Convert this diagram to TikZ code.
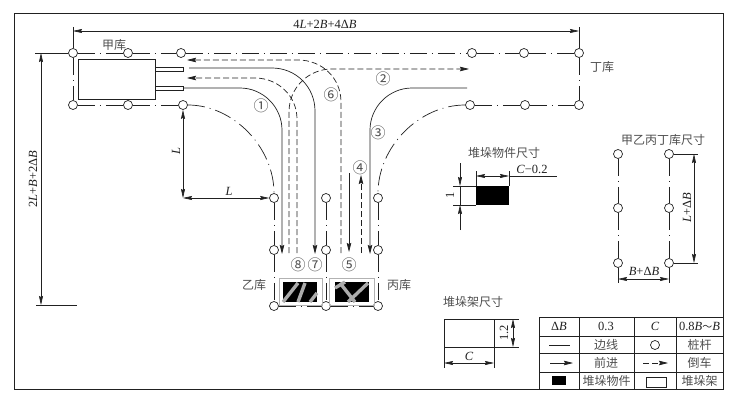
\documentclass[tikz,border=0pt]{standalone}
\usepackage{fontspec}
\setmainfont{Liberation Serif}
\newfontfamily\cjk{Noto Sans CJK SC}
\usetikzlibrary{arrows.meta}
\definecolor{ink}{gray}{0.13}
\tikzset{
  every node/.style={text=ink},
  base/.style={draw=ink,line width=0.7pt},
  post/.style={circle,draw=ink,line width=0.7pt,inner sep=0pt,minimum size=9pt},
  dd/.style={base,dash pattern=on 17pt off 5pt on 1pt off 5pt},
  road/.style={base,-{Stealth[length=9pt,width=4.5pt,inset=1pt]}},
  back/.style={base,dash pattern=on 6pt off 3pt,-{Stealth[length=9pt,width=4.5pt,inset=1pt]}},
  dim/.style={base,line width=0.6pt,{Stealth[length=9pt,width=4pt,inset=1pt]}-{Stealth[length=9pt,width=4pt,inset=1pt]}},
  ext/.style={base,line width=0.6pt},
  lab/.style={font=\fontsize{12.5}{13}\selectfont,inner sep=0pt},
  zh/.style={font=\cjk\fontsize{12}{13}\selectfont,inner sep=0pt,text=ink!80},
  num/.style={font=\cjk\fontsize{15}{15}\selectfont,inner sep=0pt,text=ink!80},
  tick/.style={base,line width=0.8pt},
  scuff/.style={draw=gray!65,line width=3.4pt}
}
\begin{document}
\begin{tikzpicture}[x=1pt,y=-1pt]
\useasboundingbox (0,0) rectangle (733,401);
% frame
\draw[tick] (14,389) -- (14,13) -- (723,13) -- (723,389) -- cycle;

% posts
\foreach \n/\x/\y in {a1/73/53,a2/128/53,a3/181/53,a4/73/105,a5/128/105,a6/183/105,
  d1/472/53,d2/524/53,d3/579/53,d4/470/105,d5/525/105,d6/579/105,
  e1/274/198,e2/274/250,e3/274/306,f1/326/198,f2/326/250,f3/326/306,g1/378/198,g2/378/250,g3/378/306,
  s1/618/154,s2/669/154,s3/618/208,s4/669/208,s5/618/263,s6/669/263}
  {\node[post] (\n) at (\x,\y) {};}

% store outlines
\draw[dd] (a1) -- (a2);
\draw[dd] (a2) -- (a3);
\draw[dd] (a3) -- (d1);
\draw[dd] (d1) -- (d2);
\draw[dd] (d2) -- (d3);
\draw[dd] (a4) -- (a5);
\draw[dd] (a5) -- (a6);
\draw[dd] (d4) -- (d5);
\draw[dd] (d5) -- (d6);
\draw[dd] (a1) -- (a4);
\draw[dd] (d3) -- (d6);
\draw[dd] (a6) .. controls (233,105) and (274,147) .. (e1);
\draw[dd] (d4) .. controls (419,105) and (378,147) .. (g1);
\draw[dd] (e1) -- (e2);
\draw[dd] (e2) -- (e3);
\draw[dd] (f1) -- (f2);
\draw[dd] (f2) -- (f3);
\draw[dd] (g1) -- (g2);
\draw[dd] (g2) -- (g3);
\draw[dd] (e3) -- (f3);
\draw[dd] (f3) -- (g3);
\draw[dd] (s1) -- (s3);
\draw[dd] (s3) -- (s5);
\draw[dd] (s2) -- (s4);
\draw[dd] (s4) -- (s6);

% truck
\node[draw=ink,line width=0.7pt,minimum width=77pt,minimum height=40pt,inner sep=0pt] (truck) at (116.5,79) {};
\draw[base] (155,67) rectangle (183,71);
\draw[base] (155,86) rectangle (183,90);

% travel paths
\coordinate (p1) at (183,88);
\coordinate (p1e) at (282,254);
\draw[road] (p1) -- (240,88) .. controls (263,88) and (282,107) .. (282,130) -- (p1e);
\coordinate (p2) at (189,68);
\coordinate (p2e) at (315,254);
\draw[road] (p2) -- (272,68) .. controls (296,68) and (315,87) .. (315,111) -- (p2e);
\coordinate (p3) at (467,88);
\coordinate (p3e) at (370,254);
\draw[road] (p3) -- (412,88) .. controls (389,88) and (370,107) .. (370,130) -- (p3e);
\coordinate (p4) at (349,173);
\coordinate (p4e) at (349,252);
\draw[road] (p4) -- (p4e);
\coordinate (r1) at (341,253);
\coordinate (r1e) at (187,60);
\draw[back] (r1) -- (341,102) .. controls (341,78) and (322,60) .. (298,60) -- (r1e);
\coordinate (r2) at (297,253);
\coordinate (r2e) at (187,78);
\draw[back] (r2) -- (297,119) .. controls (297,96) and (278,78) .. (255,78) -- (r2e);
\coordinate (r3) at (289,253);
\coordinate (r3e) at (469,69);
\draw[back] (r3) -- (289,112) .. controls (289,88) and (308,69) .. (332,69) -- (r3e);
\coordinate (r4) at (361,253);
\coordinate (r4e) at (361,175);
\draw[back] (r4) -- (r4e);

% racks
\foreach \n/\xa/\xb/\ya/\yb in {ya/279/322/278/305,yb/329/374/278/305}
  {\draw[draw=gray!60,line width=0.8pt] (\xa,\ya) rectangle (\xb,\yb);}
\fill[black] (283,282) rectangle (317,302);
\fill[black] (335,282) rectangle (369,302);
\draw[scuff] (283,302) -- (298,283);
\draw[scuff] (298,302) -- (305,283);
\draw[scuff] (310,302) -- (317,293);
\draw[scuff] (335,288) -- (345,282);
\draw[scuff] (340,283) -- (355,302);
\draw[scuff] (348,302) -- (368,283);

% main dimensions
\coordinate (t1) at (73,27); \coordinate (t2) at (579,27);
\coordinate (dl) at (73,31); \coordinate (dr) at (579,31);
\draw[ext] (t1) -- (a1);
\draw[ext] (t2) -- (d3);
\draw[dim] (dl) -- (dr);
\node[lab] (tt) at (325,24) {4\textit{L}+2\textit{B}+4Δ\textit{B}};
\coordinate (l1) at (35,53); \coordinate (l2) at (36,305); \coordinate (l3) at (77,305);
\coordinate (l4) at (41,53); \coordinate (l5) at (41,305);
\draw[ext] (l1) -- (a1);
\draw[ext] (l2) -- (l3);
\draw[dim] (l4) -- (l5);
\node[lab,rotate=90] (lt) at (33,179) {2\textit{L}+\textit{B}+2Δ\textit{B}};
\coordinate (m1) at (183,198);
\draw[dim] (a6) -- (m1);
\draw[dim] (m1) -- (e1);
\node[lab,rotate=90] (ll) at (176,151) {\textit{L}};
\node[lab] (lh) at (229,191) {\textit{L}};

% labels
\node[zh] (n1) at (114,45) {甲库};
\node[zh] (n2) at (602,67) {丁库};
\node[zh] (n3) at (254,285) {乙库};
\node[zh] (n4) at (399,285) {丙库};
\node[num] (c1) at (261,106) {①};
\node[num] (c2) at (383,79) {②};
\node[num] (c3) at (378,133) {③};
\node[num] (c4) at (360,168) {④};
\node[num] (c5) at (349,265) {⑤};
\node[num] (c6) at (331,95) {⑥};
\node[num] (c7) at (315,265) {⑦};
\node[num] (c8) at (298,265) {⑧};

% stack item
\node[zh] (h1) at (504,153) {堆垛物件尺寸};
\node[fill=black,minimum width=33pt,minimum height=19pt,inner sep=0pt] (item) at (492.5,195.5) {};
\coordinate (i1) at (476,171); \coordinate (i2) at (476,186);
\coordinate (i3) at (509,171); \coordinate (i4) at (509,186);
\coordinate (i5) at (476,176); \coordinate (i6) at (509,176); \coordinate (i7) at (557,176);
\draw[ext] (i1) -- (i2);
\draw[ext] (i3) -- (i4);
\draw[dim] (i5) -- (i6);
\draw[ext] (i6) -- (i7);
\node[lab] (it) at (532,169) {\textit{C}−0.2};
\coordinate (v1) at (453,186); \coordinate (v2) at (453,205);
\coordinate (v3) at (476,186); \coordinate (v4) at (476,205);
\coordinate (v5) at (460,163); \coordinate (v6) at (460,186);
\coordinate (v7) at (460,205); \coordinate (v8) at (460,230);
\draw[ext] (v1) -- (v3);
\draw[ext] (v2) -- (v4);
\draw[base,line width=0.6pt,-{Stealth[length=9pt,width=4pt,inset=1pt]}] (v5) -- (v6);
\draw[base,line width=0.6pt,-{Stealth[length=9pt,width=4pt,inset=1pt]}] (v8) -- (v7);
\draw[ext] (v6) -- (v7);
\node[lab,rotate=90] (iv) at (450,195) {1};

% store size
\node[zh] (h2) at (663,140) {甲乙丙丁库尺寸};
\coordinate (w1) at (698,154); \coordinate (w2) at (698,263);
\coordinate (w3) at (694,154); \coordinate (w4) at (694,263);
\draw[ext] (s2) -- (w1);
\draw[ext] (s6) -- (w2);
\draw[dim] (w3) -- (w4);
\node[lab,rotate=90] (wt) at (687,208) {\textit{L}+Δ\textit{B}};
\coordinate (b1) at (618,283); \coordinate (b2) at (669,283);
\coordinate (b3) at (618,279); \coordinate (b4) at (669,279);
\draw[ext] (s5) -- (b1);
\draw[ext] (s6) -- (b2);
\draw[dim] (b3) -- (b4);
\node[lab] (bt) at (644,271) {\textit{B}+Δ\textit{B}};

% rack size
\node[zh] (h3) at (473,302) {堆垛架尺寸};
\node[draw=ink,line width=0.7pt,minimum width=50pt,minimum height=28pt,inner sep=0pt] (rack) at (469,333) {};
\coordinate (q1) at (444,347); \coordinate (q2) at (444,368);
\coordinate (q3) at (494,347); \coordinate (q4) at (494,368);
\coordinate (q5) at (444,363); \coordinate (q6) at (494,363);
\draw[ext] (q1) -- (q2);
\draw[ext] (q3) -- (q4);
\draw[dim] (q5) -- (q6);
\node[lab] (qt) at (469,356) {\textit{C}};
\coordinate (u1) at (494,319); \coordinate (u2) at (519,319);
\coordinate (u3) at (494,347); \coordinate (u4) at (519,347);
\coordinate (u5) at (513,319); \coordinate (u6) at (513,347);
\draw[ext] (u1) -- (u2);
\draw[ext] (u3) -- (u4);
\draw[dim] (u5) -- (u6);
\node[lab,rotate=90] (ut) at (504,333) {1.2};

% table
\draw[base] (539,389) -- (539,317) -- (723,317);
\draw[base] (539,336) -- (723,336);
\draw[base] (539,353) -- (723,353);
\draw[base] (539,372) -- (723,372);
\draw[base] (579,317) -- (579,389);
\draw[base] (634,317) -- (634,389);
\draw[base] (676,317) -- (676,389);
\node[lab] (k1) at (559,326.5) {Δ\textit{B}};
\node[lab] (k2) at (606,326.5) {0.3};
\node[lab] (k3) at (655,326.5) {\textit{C}};
\node[lab] (k4) at (699.5,326.5) {0.8\textit{B}\raisebox{0pt}{\cjk\fontsize{10}{10}\selectfont ～}\textit{B}};
\coordinate (x1) at (549,345); \coordinate (x2) at (570,345);
\draw[base] (x1) -- (x2);
\node[zh] (k5) at (606,345) {边线};
\node[post] (k6) at (655,345) {};
\node[zh] (k7) at (699.5,345) {桩杆};
\coordinate (x3) at (550,363); \coordinate (x4) at (573,363);
\draw[road] (x3) -- (x4);
\node[zh] (k8) at (606,363) {前进};
\coordinate (x5) at (643,363); \coordinate (x6) at (668,363);
\draw[back] (x5) -- (x6);
\node[zh] (k9) at (699.5,363) {倒车};
\node[fill=black,minimum width=14pt,minimum height=9pt,inner sep=0pt] (k10) at (559,380.5) {};
\node[zh] (k11) at (606.5,380.5) {堆垛物件};
\node[draw=ink,line width=0.5pt,minimum width=20pt,minimum height=10pt,inner sep=0pt] (k12) at (656,382) {};
\node[zh] (k13) at (699.5,380.5) {堆垛架};
\end{tikzpicture}
\end{document}
